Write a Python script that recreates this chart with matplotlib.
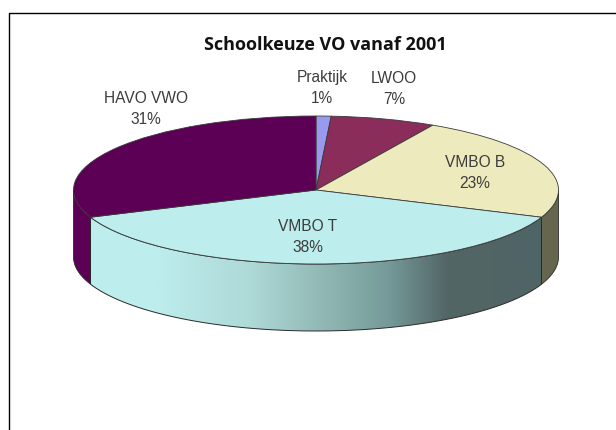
import numpy as np
import matplotlib
matplotlib.use('Agg')
import matplotlib.pyplot as plt
from matplotlib.colors import LinearSegmentedColormap
from matplotlib.patches import Polygon

labels = ['Praktijk', 'LWOO', 'VMBO B', 'VMBO T', 'HAVO VWO']
values = [1, 7, 23, 38, 31]
top_colors = ['#9999EE', '#8B2D5A', '#EDEBBD', '#BDEDED', '#5C0055']
side_colors = ['#5A5A8C', '#5C1E3C', '#66664E', None, '#5C0055']

W, H = 616, 430
cx, cy = 316, 190  # 椭圆中心
rx, ry = 242.5, 74
depth = 67 / ry

label_pos = [(322, 88), (394, 89), (475, 173), (308, 237), (146, 109)]


def px(x, y):
    return (x - cx) / rx, (cy - y) / ry


# 侧面的一段：角度从12点方向顺时针算
def wall(a0, a1):
    t = np.radians(np.linspace(a0, a1, 80))
    x, y = np.sin(t), np.cos(t)
    return np.vstack([np.column_stack((x, y)),
                      np.column_stack((x[::-1], y[::-1] - depth))])


fig = plt.figure(figsize=(W / 100, H / 100), dpi=100)
ax = fig.add_axes([0, 0, 1, 1])

ax.pie(values, colors=top_colors, startangle=90, counterclock=False, radius=1,
       wedgeprops={'edgecolor': '#3a3a3a', 'linewidth': 0.6, 'zorder': 5})
ax.set_aspect('auto')

ends = np.cumsum(values) / np.sum(values) * 360

# 左右两端露出的侧面
ax.add_patch(Polygon(wall(ends[3], 270), closed=True, facecolor=side_colors[4],
                     edgecolor='#2a2a2a', linewidth=0.6, zorder=2))
ax.add_patch(Polygon(wall(90, ends[2]), closed=True, facecolor=side_colors[2],
                     edgecolor='#2a2a2a', linewidth=0.6, zorder=2))

# VMBO T 的侧面带渐变
front = Polygon(wall(ends[2], ends[3]), closed=True, facecolor='none',
                edgecolor='#2a2a2a', linewidth=0.7, zorder=4)
ax.add_patch(front)
cmap = LinearSegmentedColormap.from_list('side', [
    (0.0, '#BDEDED'), (0.14, '#BDEDED'), (0.35, '#AEDAD8'), (0.5, '#94BBB8'),
    (0.66, '#759A99'), (0.79, '#536666'), (1.0, '#4F6465')])
xs = np.linspace(-1, 1, 256).reshape(1, -1)
x0, x1 = np.sin(np.radians(ends[3])), np.sin(np.radians(ends[2]))
im = ax.imshow(xs, extent=(x0, x1, -1.2 - depth, 0.5), cmap=cmap, aspect='auto',
               zorder=3, interpolation='bilinear')
im.set_clip_path(front)
ax.set_xlim(px(0, 0)[0], px(W, 0)[0])
ax.set_ylim(px(0, H)[1], px(0, 0)[1])
ax.axis('off')

# 只有上边和左边的边框
fig.add_artist(plt.Line2D([8.5 / W, 8.5 / W, 1], [0, 1 - 12.5 / H, 1 - 12.5 / H],
                          color='black', linewidth=1))

fig.text(325 / W, 1 - 45.5 / H, 'Schoolkeuze VO vanaf 2001', ha='center', va='center',
         fontsize=13, fontweight='bold', family='Open Sans', color='#111111')

for name, v, (x, y) in zip(labels, values, label_pos):
    fig.text(x / W, 1 - y / H, '%s\n%d%%' % (name, v), ha='center', va='center',
             fontsize=11.2, family='Liberation Sans', color='#3c3c3c', linespacing=1.55,
             zorder=10)

fig.savefig('out.png', dpi=100)
